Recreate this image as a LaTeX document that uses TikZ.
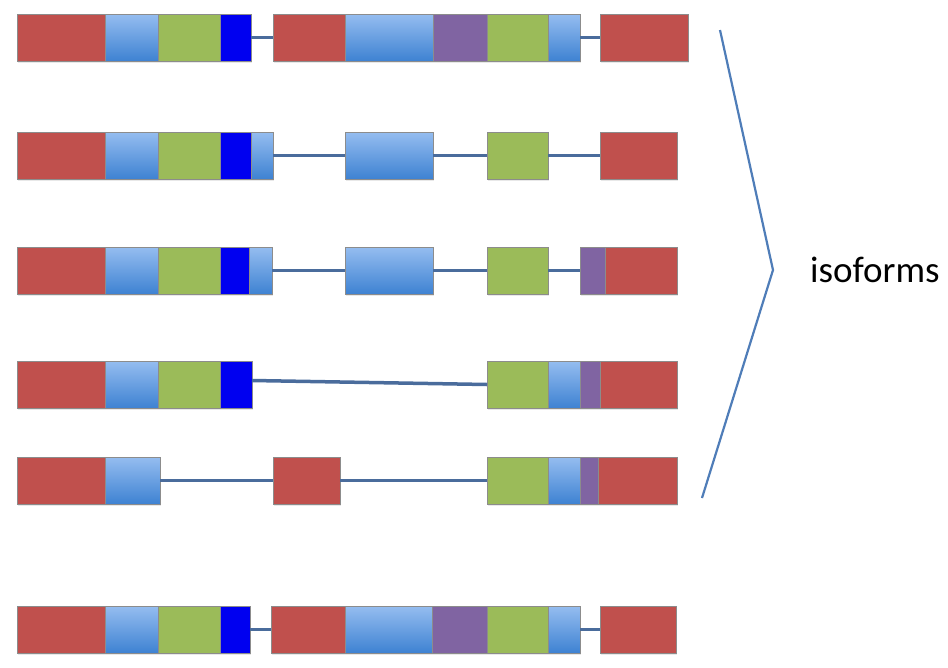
\documentclass[tikz,border=0pt]{standalone}
\usepackage{fontspec}
\setmainfont{Carlito}
\usetikzlibrary{shadows}

\definecolor{exred}{HTML}{C0504D}
\definecolor{exgreen}{HTML}{9BBB59}
\definecolor{expurple}{HTML}{8064A2}
\definecolor{exdblue}{HTML}{0000F0}
\definecolor{lbtop}{HTML}{95BDF0}
\definecolor{lbbot}{HTML}{3E82D2}
\definecolor{intron}{HTML}{4A6C9C}
\definecolor{brace}{HTML}{4F7DB8}

\tikzset{
  exon/.style={rectangle, anchor=north west, inner sep=0pt, outer sep=0pt,
    minimum height=47pt, draw=black!45, line width=0.5pt,
    drop shadow={opacity=0.18, shadow xshift=1pt, shadow yshift=-2pt}},
  red/.style={exon, fill=exred},
  grn/.style={exon, fill=exgreen},
  pur/.style={exon, fill=expurple},
  dbl/.style={exon, fill=exdblue},
  lbl/.style={exon, top color=lbtop, bottom color=lbbot},
  intronline/.style={draw=intron, line width=3.5pt},
  bracket/.style={draw=brace, line width=2.2pt, line join=miter},
  label/.style={anchor=west, inner sep=0pt, font=\fontsize{37}{44}\selectfont}
}

% #1 style, #2 name, #3 left x, #4 top y, #5 width
\newcommand{\exonbox}[5]{\node[#1, minimum width=#5pt] (#2) at (#3,#4) {};}

\begin{document}
\begin{tikzpicture}[x=1pt,y=-1pt]
\useasboundingbox (0,0) rectangle (948,667);

% row 1
\exonbox{red}{r1a}{17}{14}{88}
\exonbox{lbl}{r1b}{105}{14}{53}
\exonbox{grn}{r1c}{158}{14}{62}
\exonbox{dbl}{r1d}{220}{14}{31}
\exonbox{red}{r1e}{273}{14}{72}
\exonbox{lbl}{r1f}{345}{14}{88}
\exonbox{pur}{r1g}{433}{14}{54}
\exonbox{grn}{r1h}{487}{14}{61}
\exonbox{lbl}{r1i}{548}{14}{32}
\exonbox{red}{r1j}{600}{14}{88}
\draw[intronline] (r1d.east) -- (r1e.west);
\draw[intronline] (r1i.east) -- (r1j.west);

% row 2
\exonbox{red}{r2a}{17}{132}{88}
\exonbox{lbl}{r2b}{105}{132}{53}
\exonbox{grn}{r2c}{158}{132}{62}
\exonbox{dbl}{r2d}{220}{132}{31}
\exonbox{lbl}{r2e}{251}{132}{22}
\exonbox{lbl}{r2f}{345}{132}{88}
\exonbox{grn}{r2g}{487}{132}{61}
\exonbox{red}{r2h}{600}{132}{77}
\draw[intronline] (r2e.east) -- (r2f.west);
\draw[intronline] (r2f.east) -- (r2g.west);
\draw[intronline] (r2g.east) -- (r2h.west);

% row 3
\exonbox{red}{r3a}{17}{247}{88}
\exonbox{lbl}{r3b}{105}{247}{53}
\exonbox{grn}{r3c}{158}{247}{62}
\exonbox{dbl}{r3d}{220}{247}{29}
\exonbox{lbl}{r3e}{249}{247}{23}
\exonbox{lbl}{r3f}{345}{247}{88}
\exonbox{grn}{r3g}{487}{247}{61}
\exonbox{pur}{r3h}{580}{247}{25}
\exonbox{red}{r3i}{605}{247}{72}
\draw[intronline] (r3e.east) -- (r3f.west);
\draw[intronline] (r3f.east) -- (r3g.west);
\draw[intronline] (r3g.east) -- (r3h.west);

% row 4
\exonbox{red}{r4a}{17}{361}{88}
\exonbox{lbl}{r4b}{105}{361}{53}
\exonbox{grn}{r4c}{158}{361}{62}
\exonbox{dbl}{r4d}{220}{361}{32}
\exonbox{grn}{r4e}{487}{361}{61}
\exonbox{lbl}{r4f}{548}{361}{32}
\exonbox{pur}{r4g}{580}{361}{20}
\exonbox{red}{r4h}{600}{361}{77}
\draw[intronline] ([yshift=4pt]r4d.east) -- (r4e.west);

% row 5
\exonbox{red}{r5a}{17}{457}{88}
\exonbox{lbl}{r5b}{105}{457}{55}
\exonbox{red}{r5c}{273}{457}{67}
\exonbox{grn}{r5d}{487}{457}{61}
\exonbox{lbl}{r5e}{548}{457}{32}
\exonbox{pur}{r5f}{580}{457}{18}
\exonbox{red}{r5g}{598}{457}{79}
\draw[intronline] (r5b.east) -- (r5c.west);
\draw[intronline] (r5c.east) -- (r5d.west);

% row 6
\exonbox{red}{r6a}{17}{606}{88}
\exonbox{lbl}{r6b}{105}{606}{53}
\exonbox{grn}{r6c}{158}{606}{62}
\exonbox{dbl}{r6d}{220}{606}{30}
\exonbox{red}{r6e}{271}{606}{74}
\exonbox{lbl}{r6f}{345}{606}{87}
\exonbox{pur}{r6g}{432}{606}{55}
\exonbox{grn}{r6h}{487}{606}{61}
\exonbox{lbl}{r6i}{548}{606}{32}
\exonbox{red}{r6j}{600}{606}{76}
\draw[intronline] (r6d.east) -- (r6e.west);
\draw[intronline] (r6i.east) -- (r6j.west);

% bracket grouping the isoforms
\coordinate (btop) at (720,30);
\coordinate (btip) at (773,270);
\coordinate (bbot) at (702,498);
\draw[bracket] (btop) -- (btip) -- (bbot);
\node[label] (iso) at (810,270) {isoforms};

\end{tikzpicture}
\end{document}
